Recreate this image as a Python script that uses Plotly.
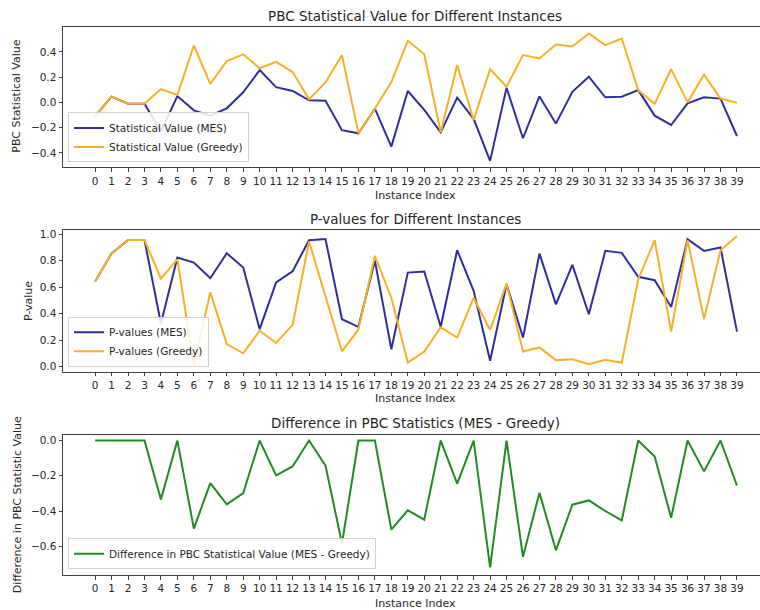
import plotly.graph_objects as go

idx = list(range(40))

stat_mes = [-0.11, 0.045, -0.01, -0.01, -0.23, 0.05, -0.063, -0.105, -0.047, 0.08,
            0.255, 0.12, 0.09, 0.016, 0.013, -0.22, -0.245, -0.05, -0.35, 0.09,
            -0.06, -0.237, 0.037, -0.13, -0.463, 0.116, -0.284, 0.047, -0.168, 0.084,
            0.203, 0.04, 0.045, 0.097, -0.105, -0.179, -0.008, 0.04, 0.03, -0.266]
stat_greedy = [-0.11, 0.045, -0.01, -0.01, 0.105, 0.058, 0.45, 0.147, 0.326, 0.38,
               0.27, 0.32, 0.24, 0.024, 0.158, 0.374, -0.245, -0.05, 0.16, 0.487,
               0.38, -0.237, 0.295, -0.14, 0.263, 0.124, 0.374, 0.347, 0.458, 0.442,
               0.545, 0.453, 0.505, 0.097, -0.013, 0.263, 0.0, 0.22, 0.03, -0.003]
p_mes = [0.642, 0.854, 0.957, 0.957, 0.325, 0.824, 0.786, 0.667, 0.856, 0.748,
         0.282, 0.635, 0.72, 0.955, 0.963, 0.357, 0.30, 0.80, 0.13, 0.71,
         0.718, 0.30, 0.879, 0.572, 0.043, 0.622, 0.219, 0.854, 0.47, 0.768,
         0.395, 0.874, 0.859, 0.678, 0.652, 0.45, 0.962, 0.874, 0.90, 0.264]
p_greedy = [0.642, 0.854, 0.957, 0.957, 0.665, 0.81, 0.01, 0.56, 0.17, 0.10,
            0.27, 0.178, 0.315, 0.945, 0.53, 0.115, 0.28, 0.836, 0.52, 0.03,
            0.113, 0.295, 0.219, 0.52, 0.275, 0.627, 0.113, 0.144, 0.048, 0.055,
            0.018, 0.05, 0.028, 0.66, 0.955, 0.264, 0.955, 0.358, 0.879, 0.987]
diff = [0.0, 0.0, 0.0, 0.0, -0.334, 0.0, -0.50, -0.242, -0.362, -0.298,
        0.0, -0.198, -0.147, 0.0, -0.142, -0.585, 0.0, 0.0, -0.506, -0.396,
        -0.449, 0.0, -0.245, 0.0, -0.72, 0.0, -0.66, -0.296, -0.623, -0.364,
        -0.34, -0.40, -0.453, 0.0, -0.09, -0.438, 0.0, -0.175, 0.0, -0.255]

yt1 = [0.4, 0.2, 0.0, -0.2, -0.4]
yt1_txt = ["0.4", "0.2", "0.0", "\u22120.2", "\u22120.4"]
yt2 = [0.0, 0.2, 0.4, 0.6, 0.8, 1.0]
yt2_txt = ["0.0", "0.2", "0.4", "0.6", "0.8", "1.0"]
yt3 = [0.0, -0.2, -0.4, -0.6]
yt3_txt = ["0.0", "\u22120.2", "\u22120.4", "\u22120.6"]

C_MES = "#2e2e9e"
C_GR = "#f5b027"
C_DIFF = "#218a21"
FONT = "DejaVu Sans"
TXT = "#262626"
AX = "#404040"

W, H = 760, 610
def py(px):
    return 1 - px / H

fig = go.Figure()
fig.add_trace(go.Scatter(x=idx, y=stat_mes, mode="lines", name="Statistical Value (MES)",
                         line=dict(color=C_MES, width=2), xaxis="x", yaxis="y", legend="legend"))
fig.add_trace(go.Scatter(x=idx, y=stat_greedy, mode="lines", name="Statistical Value (Greedy)",
                         line=dict(color=C_GR, width=2), xaxis="x", yaxis="y", legend="legend"))
fig.add_trace(go.Scatter(x=idx, y=p_mes, mode="lines", name="P-values (MES)",
                         line=dict(color=C_MES, width=2), xaxis="x2", yaxis="y2", legend="legend2"))
fig.add_trace(go.Scatter(x=idx, y=p_greedy, mode="lines", name="P-values (Greedy)",
                         line=dict(color=C_GR, width=2), xaxis="x2", yaxis="y2", legend="legend2"))
fig.add_trace(go.Scatter(x=idx, y=diff, mode="lines", name="Difference in PBC Statistical Value (MES - Greedy)",
                         line=dict(color=C_DIFF, width=2), xaxis="x3", yaxis="y3", legend="legend3"))

xdom = [63 / W, 1.0]
xr = [-1.95, 40.4]
def xax(anchor):
    return dict(domain=xdom, range=xr, anchor=anchor, tickmode="array", tickvals=idx,
                ticktext=[str(i) for i in idx], ticks="outside", ticklen=3.5, tickcolor=AX,
                showline=True, linecolor=AX, linewidth=1, mirror=True, showgrid=False,
                zeroline=False, tickfont=dict(family=FONT, size=10.5, color=TXT))
def yax(anchor, dom, rng, tv, tt):
    return dict(domain=dom, range=rng, anchor=anchor, tickmode="array", tickvals=tv, ticktext=tt,
                ticks="outside", ticklen=3.5, tickcolor=AX, showline=True, linecolor=AX, linewidth=1,
                mirror=False, showgrid=False, zeroline=False,
                tickfont=dict(family=FONT, size=10.5, color=TXT))

def leg(x0, ybot):
    return dict(x=x0, y=ybot, xanchor="left", yanchor="bottom", bgcolor="rgba(255,255,255,0.85)",
                bordercolor="#d0d0d0", borderwidth=1, font=dict(family=FONT, size=10.5, color=TXT),
                tracegroupgap=0, itemwidth=30)

fig.update_layout(
    width=W, height=H, margin=dict(l=0, r=0, t=0, b=0),
    paper_bgcolor="white", plot_bgcolor="white",
    xaxis=xax("y"), yaxis=yax("x", [py(166), py(25)], [-0.515, 0.597], yt1, yt1_txt),
    xaxis2=xax("y2"), yaxis2=yax("x2", [py(371), py(229)], [-0.04, 1.03], yt2, yt2_txt),
    xaxis3=xax("y3"), yaxis3=yax("x3", [py(575), py(434)], [-0.764, 0.034], yt3, yt3_txt),
    legend=leg(68 / W, py(161)),
    legend2=leg(68 / W, py(366)),
    legend3=leg(68 / W, py(569)),
    showlegend=True,
)

def ann(text, x, y, size, angle=0):
    fig.add_annotation(text=text, x=x / W, y=py(y), xref="paper", yref="paper", showarrow=False,
                       xanchor="center", yanchor="middle", textangle=angle,
                       font=dict(family=FONT, size=size, color=TXT))

ann("PBC Statistical Value for Different Instances", 415, 14, 13.5)
ann("P-values for Different Instances", 415, 218, 13.5)
ann("Difference in PBC Statistics (MES - Greedy)", 415, 422, 13.5)
ann("Instance Index", 415, 194, 11)
ann("Instance Index", 415, 398, 11)
ann("Instance Index", 415, 603, 11)
ann("PBC Statistical Value", 17, 95, 11, -90)
ann("P-value", 28, 300, 11, -90)
ann("Difference in PBC Statistic Value", 17, 505, 11, -90)

fig.write_html("out.html")
